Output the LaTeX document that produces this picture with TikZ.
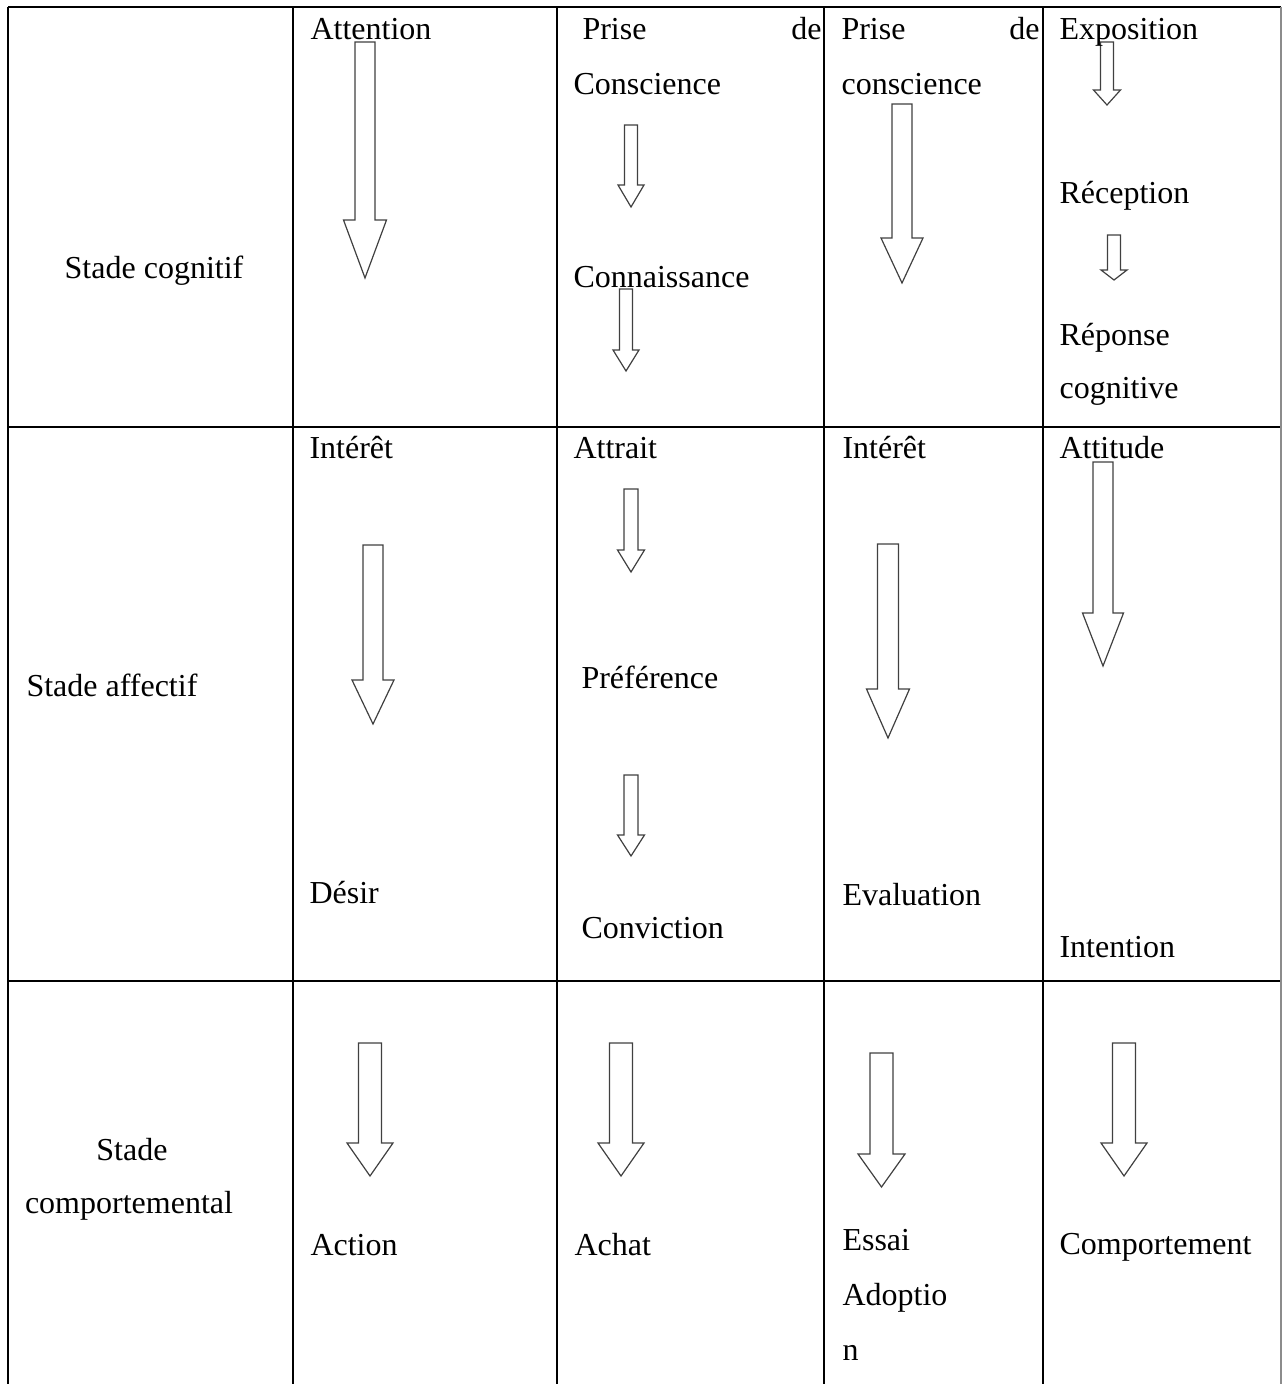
\documentclass[tikz,border=0pt]{standalone}
\usepackage{fontspec}
\setmainfont{Liberation Serif}
\usepackage{tikz}
\usetikzlibrary{positioning}
\usepackage{xcolor}
\definecolor{traitgris}{HTML}{404040}
\definecolor{bordgris}{HTML}{8C8C8C}
% bloc fleche vers le bas : x, haut, base de la pointe, pointe, demi-largeur tige, demi-largeur pointe
\newcommand{\blocfleche}[6]{%
  \draw[fleche] (#1-#5,#2) -- (#1+#5,#2) -- (#1+#5,#3) -- (#1+#6,#3)
    -- (#1,#4) -- (#1-#6,#3) -- (#1-#5,#3) -- cycle;}
\tikzset{
  grille/.style={draw=black, line width=0.75pt},
  bord/.style={draw=bordgris, line width=0.45pt},
  fleche/.style={draw=traitgris, line width=0.45pt, fill=white, line join=miter},
  etiq/.style={anchor=base west, inner sep=0pt, font=\fontsize{12}{14}\selectfont},
  etiqd/.style={etiq, anchor=base east},
  stade/.style={anchor=base, inner sep=0pt, font=\fontsize{12}{14}\selectfont},
}
\begin{document}
\begin{tikzpicture}[x=0.375pt, y=-0.375pt]
\useasboundingbox (0,0) rectangle (1282,1384);
% grille du tableau
\draw[grille] (8,7) -- (1281,7);
\draw[grille] (8,427) -- (1281,427);
\draw[grille] (8,981) -- (1281,981);
\draw[grille] (8,7) -- (8,1384);
\draw[grille] (293,7) -- (293,1384);
\draw[grille] (557,7) -- (557,1384);
\draw[grille] (824,7) -- (824,1384);
\draw[grille] (1043,7) -- (1043,1384);
\draw[bord] (1281,7) -- (1281,1384);

% fleches -- stade cognitif
\blocfleche{365}{42}{220}{278}{10}{21.5}
\blocfleche{631}{125}{185}{207}{6.5}{13}
\blocfleche{626}{289}{350}{371}{6.5}{13}
\blocfleche{902}{104}{238}{283}{10}{21}
\blocfleche{1107}{42}{90}{105}{6.5}{13.5}
\blocfleche{1114}{235}{270}{280}{6.5}{13}
% fleches -- stade affectif
\blocfleche{373}{545}{680}{724}{10}{21}
\blocfleche{631}{489}{550}{572}{7}{13.5}
\blocfleche{631}{775}{835}{856}{7}{13.5}
\blocfleche{888}{544}{689}{738}{10.5}{21.5}
\blocfleche{1103}{462}{613}{666}{10}{20.5}
% fleches -- stade comportemental
\blocfleche{370}{1043}{1143}{1176}{11.5}{23}
\blocfleche{621}{1043}{1143}{1176}{11.5}{23}
\blocfleche{881.5}{1053}{1154}{1187}{11.5}{23.5}
\blocfleche{1124}{1043}{1143}{1176}{11.5}{23}

% stades
\node[stade] (cogn) at (154,278) {Stade cognitif};
\node[etiq] (affe) at (26,696) {Stade affectif};
\node[stade] (comp1) at (132,1160) {Stade};
\node[stade] (comp2) at (129,1213) {comportemental};

% modele AIDA
\node[etiq] (aida1) at (310,40) {Attention};
\node[etiq] (aida2) at (309,458) {Intérêt};
\node[etiq] (aida3) at (309,903) {Désir};
\node[etiq] (aida4) at (310,1255) {Action};

% hierarchie des effets
\node[etiq] (hier1a) at (582,40) {Prise};
\node[etiqd] (hier1b) at (822,40) {de};
\node[etiq] (hier1c) at (573,95) {Conscience};
\node[etiq] (hier2) at (573,287) {Connaissance};
\node[etiq] (hier3) at (573,458) {Attrait};
\node[etiq] (hier4) at (581,688) {Préférence};
\node[etiq] (hier5) at (581,938) {Conviction};
\node[etiq] (hier6) at (574,1255) {Achat};

% adoption de l'innovation
\node[etiq] (inno1a) at (841,40) {Prise};
\node[etiqd] (inno1b) at (1040,40) {de};
\node[etiq] (inno1c) at (841,95) {conscience};
\node[etiq] (inno2) at (842,458) {Intérêt};
\node[etiq] (inno3) at (842,905) {Evaluation};
\node[etiq] (inno4a) at (842,1250) {Essai};
\node[etiq] (inno4b) at (842,1305) {Adoptio};
\node[etiq] (inno4c) at (842,1360) {n};

% traitement de l'information
\node[etiq] (trai1) at (1059,40) {Exposition};
\node[etiq] (trai2) at (1059,203) {Réception};
\node[etiq] (trai3a) at (1059,345) {Réponse};
\node[etiq] (trai3b) at (1059,398) {cognitive};
\node[etiq] (trai4) at (1059,458) {Attitude};
\node[etiq] (trai5) at (1059,957) {Intention};
\node[etiq] (trai6) at (1059,1254) {Comportement};
\end{tikzpicture}
\end{document}
